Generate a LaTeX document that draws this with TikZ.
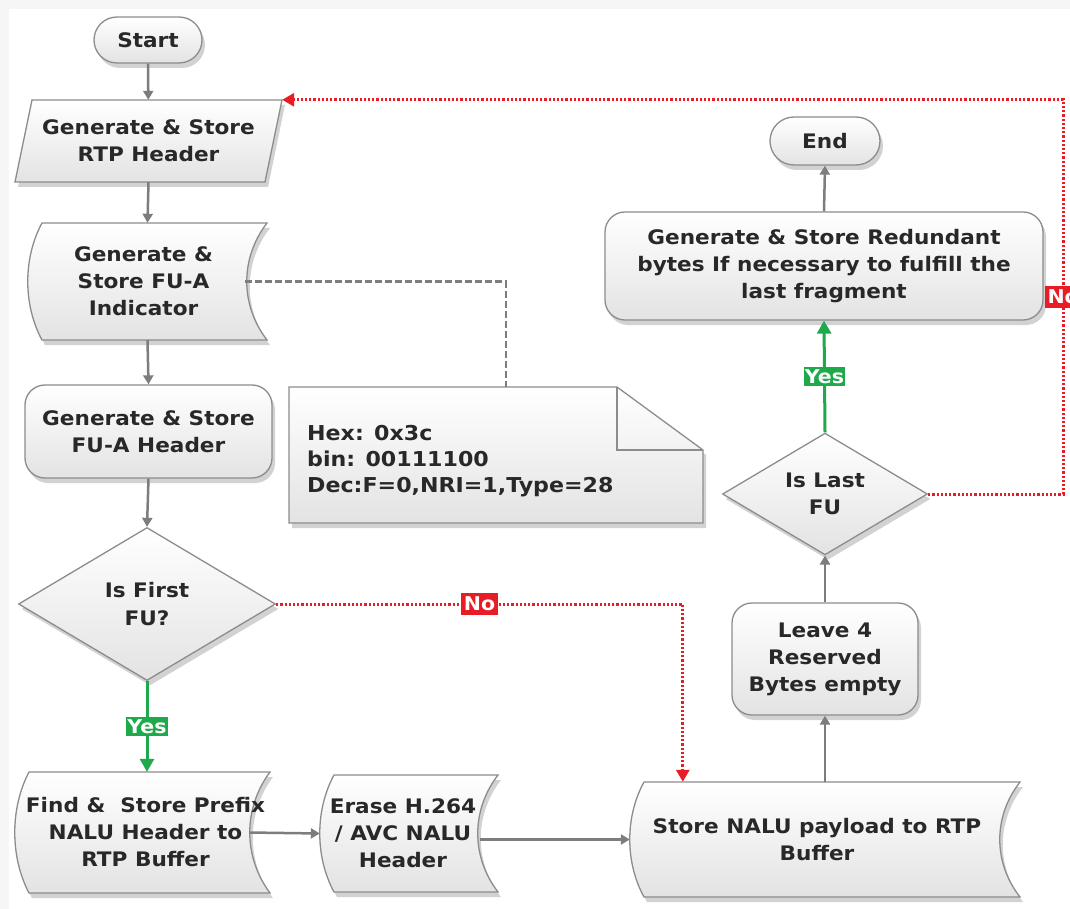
\documentclass[tikz,border=0pt]{standalone}
\usepackage{fontspec}
\setmainfont{DejaVu Sans}[FakeStretch=1.08]
\usetikzlibrary{arrows.meta,shapes.geometric,shadows,calc}
\definecolor{lgray}{RGB}{125,125,125}
\definecolor{bord}{RGB}{140,140,140}
\definecolor{myred}{RGB}{232,28,36}
\definecolor{mygreen}{RGB}{30,170,75}
\definecolor{txt}{RGB}{40,40,40}
\tikzset{
  shade/.style={draw=bord, line width=1.3pt, top color=white, bottom color=gray!22,
    drop shadow={opacity=0.35, shadow xshift=3pt, shadow yshift=-5pt}},
  lbl/.style={text=txt, font=\bfseries\fontsize{20}{27}\selectfont, align=center, inner sep=0pt},
  term/.style={shade, lbl, rounded corners=23pt, minimum width=108pt, minimum height=46pt},
  proc/.style={shade, lbl, rounded corners=20pt},
  decide/.style={shade, lbl, diamond, inner sep=0pt},
  holder/.style={lbl, rectangle},
  garrow/.style={draw=lgray, line width=2.5pt, -{Triangle[width=10pt,length=9pt]}},
  gdash/.style={draw=lgray, line width=2.6pt, dash pattern=on 7pt off 3pt},
  reddot/.style={draw=myred, line width=3pt, dash pattern=on 2.2pt off 2pt, -{Triangle[width=13pt,length=12pt]}},
  greenarr/.style={draw=mygreen, line width=3pt, -{Triangle[width=14pt,length=13pt]}},
  nolabel/.style={fill=myred, text=white, font=\bfseries\fontsize{19}{19}\selectfont, inner xsep=3pt, inner ysep=4pt},
  yeslabel/.style={fill=mygreen, text=white, font=\bfseries\fontsize{19}{19}\selectfont, inner xsep=1pt, inner ysep=2pt},
}
% name, left, top, right, bottom, text x-offset, text
\newcommand\sdata[7]{%
  \path[shade] ({#2+14},#3) -- (#4,#3)
    .. controls ({#4-27},{#3+0.3*(#5-#3)}) and ({#4-27},{#5-0.3*(#5-#3)}) .. (#4,#5)
    -- ({#2+14},#5)
    .. controls ({#2-5},{#5-0.3*(#5-#3)}) and ({#2-5},{#3+0.3*(#5-#3)}) .. ({#2+14},#3) -- cycle;
  \node[holder, minimum width={(#4-#2)*1pt}, minimum height={(#5-#3)*1pt}] (#1) at ({(#2+#4)/2},{(#3+#5)/2}) {};
  \node[lbl] at ({(#2+#4)/2+#6},{(#3+#5)/2}) {#7};
}
\begin{document}
\begin{tikzpicture}[x=1pt,y=-1pt]
\useasboundingbox (0,0) rectangle (1070,909);
\clip (0,0) rectangle (1070,909);
\fill[gray!7] (0,0) rectangle (1070,909);
\fill[white] (9,9) rectangle (1070,909);

% left column
\node[term] (start) at (148,40) {Start};

\path[shade] (32,100) -- (282,100) -- (265,182) -- (15,182) -- cycle;
\node[holder, minimum width=267pt, minimum height=82pt] (rtp) at (148.5,141) {Generate \& Store\\RTP Header};

\sdata{ind}{28}{223}{267}{340}{-4}{Generate \&\\Store FU-A\\Indicator}

\node[proc, minimum width=247pt, minimum height=93pt] (hdr) at (148.5,431.5) {Generate \& Store\\FU-A Header};

\node[decide, minimum width=257pt, minimum height=153pt, font=\bfseries\fontsize{20}{28}\selectfont] (first) at (147,604) {Is First\\FU?};

\sdata{find}{15}{772}{270}{893}{3}{Find \&~ Store Prefix\\NALU Header to\\RTP Buffer}
\sdata{erase}{320}{775}{498}{892}{-6}{Erase H.264\\/ AVC NALU\\Header}
\sdata{store}{630}{782}{1020}{897}{-8}{Store NALU payload to RTP\\Buffer}

% note
\path[shade] (289,387) -- (617,387) -- (703,450) -- (703,523) -- (289,523) -- cycle;
\draw[bord, line width=1.3pt] (617,387) -- (617,450) -- (703,450);
\node[holder, minimum width=414pt, minimum height=136pt] (note) at (496,455) {};
\node[lbl, anchor=west, align=left, font=\bfseries\fontsize{20.5}{26}\selectfont] at (307,461) {Hex: 0x3c\\bin: 00111100\\Dec:F=0,NRI=1,Type=28};

% right column
\node[proc, minimum width=186pt, minimum height=112pt] (leave) at (825,659) {Leave 4\\Reserved\\Bytes empty};
\node[decide, minimum width=205pt, minimum height=102pt] (last) at (825,494) {Is Last\\FU};
\node[proc, minimum width=438pt, minimum height=108pt] (red) at (824,266) {Generate \& Store Redundant\\bytes If necessary to fulfill the\\last fragment};
\node[term, minimum width=110pt, minimum height=48pt, rounded corners=24pt] (end) at (825,141) {End};

% connectors
\draw[garrow] (start) -- (rtp);
\draw[garrow] (rtp.south) -- (ind.north);
\draw[garrow] (ind.south) -- (hdr.north);
\draw[garrow] (hdr.south) -- (first.north);
\draw[greenarr] (first.south) -- (first.south |- find.north) node[yeslabel, pos=0.5] {Yes};
\draw[reddot] (first.east) -| ([xshift=53pt]store.north west) node[nolabel, pos=0.25] {No};
\draw[garrow] ([xshift=-21pt]find.east) -- (erase.west);
\draw[garrow] ([xshift=-18pt]erase.east |- store.west) -- (store.west);
\draw[garrow] (store.north) -- (leave.south);
\draw[garrow] (leave.north) -- (last.south);
\draw[greenarr] (last.north) -- (red.south) node[yeslabel, pos=0.5] {Yes};
\draw[garrow] (red.north) -- (end.south);
\draw[reddot] (last.east) -- ++(135,0) |- (rtp.north east) node[nolabel, pos=0.25] {No};
\draw[gdash] ([xshift=-22pt]ind.east) -| ([xshift=217pt]note.north west);
\end{tikzpicture}
\end{document}
